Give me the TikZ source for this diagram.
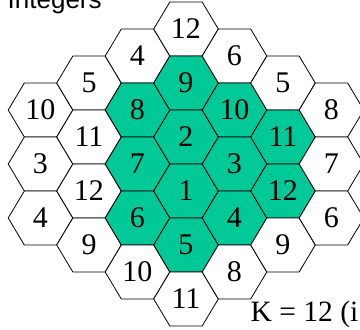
\documentclass[tikz,border=0pt]{standalone}
\usepackage{fontspec}
\setmainfont{Liberation Serif}
\newfontfamily\titlefont{Liberation Sans}
\usepackage{tikz}
\usetikzlibrary{positioning}
\definecolor{hgreen}{HTML}{00C897}
\tikzset{
  hexw/.style={draw=black,fill=white,line width=0.8pt,line join=miter},
  hexg/.style={draw=black,fill=hgreen,line width=0.8pt,line join=miter},
  num/.style={inner sep=0pt,font=\fontsize{30}{36}\selectfont},
}
\begin{document}
\begin{tikzpicture}[x=1pt,y=-1pt]
  \useasboundingbox (0,0) rectangle (360,330);
  \clip (0,0) rectangle (360,330);
  % hex grid: column c, half-row k
  \foreach \c/\k/\lab/\st in {-3/3/10/hexw,-3/5/3/hexw,-3/7/4/hexw,
      -2/2/5/hexw,-2/4/11/hexw,-2/6/12/hexw,-2/8/9/hexw,
      -1/1/4/hexw,-1/3/8/hexg,-1/5/7/hexg,-1/7/6/hexg,-1/9/10/hexw,
      0/0/12/hexw,0/2/9/hexg,0/4/2/hexg,0/6/1/hexg,0/8/5/hexg,0/10/11/hexw,
      1/1/6/hexw,1/3/10/hexg,1/5/3/hexg,1/7/4/hexg,1/9/8/hexw,
      2/2/5/hexw,2/4/11/hexg,2/6/12/hexg,2/8/9/hexw,
      3/3/8/hexw,3/5/7/hexw,3/7/6/hexw}{
    \pgfmathsetmacro\hx{186+48.5*\c}
    \pgfmathsetmacro\hy{29+27*\k}
    \draw[\st] (\hx,\hy) ++(-32.3,0) -- ++(16.15,-27) -- ++(32.3,0) -- ++(16.15,27)
      -- ++(-16.15,27) -- ++(-32.3,0) -- cycle;
    \node[num] (n\c\k) at (\hx,\hy) {\lab};
  }
  \node[anchor=base west,inner sep=0pt,font=\titlefont\fontsize{26}{30}\selectfont] (title) at (7.5,8.3) {Integers};
  \node[anchor=base west,inner sep=0pt,font=\fontsize{29.5}{34}\selectfont] (klabel) at (250.5,321.7) {K = 12 (i};
\end{tikzpicture}
\end{document}
